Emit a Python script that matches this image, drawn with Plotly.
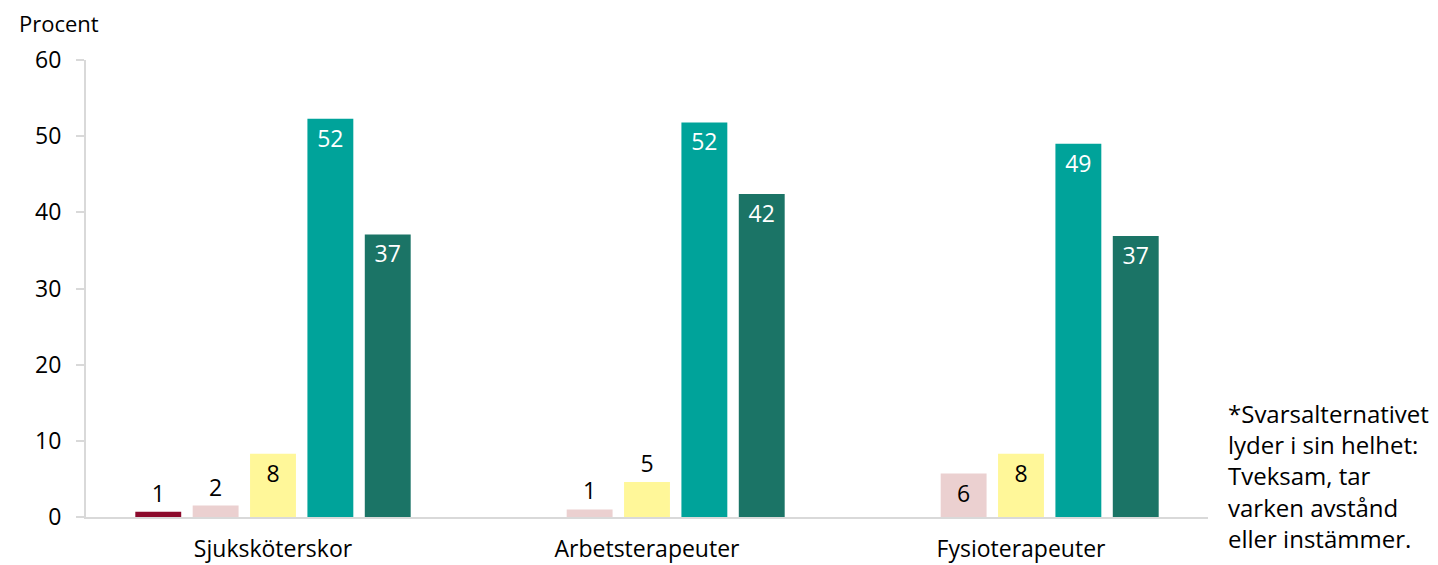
import plotly.graph_objects as go

categories = ["Sjuksköterskor", "Arbetsterapeuter", "Fysioterapeuter"]

series_names = ["Tar helt avstånd", "Tar delvis avstånd", "Tveksam*", "Instämmer delvis", "Instämmer helt"]
tar_helt_avstand = [0.7, None, None]
tar_delvis_avstand = [1.5, 1.0, 5.7]
tveksam = [8.3, 4.6, 8.3]
instammer_delvis = [52.3, 51.8, 49.0]
instammer_helt = [37.1, 42.4, 36.9]

y_ticks = [0, 10, 20, 30, 40, 50, 60]

colors = ["#8C0A2C", "#EBD0D0", "#FFF799", "#00A39A", "#1B7466"]
text_colors = ["black", "black", "black", "white", "white"]
# where the value labels sit, per bar
positions = [
    ["outside", "outside", "outside"],
    ["outside", "outside", "inside"],
    ["inside", "outside", "inside"],
    ["inside", "inside", "inside"],
    ["inside", "inside", "inside"],
]

font = "Open Sans, Arial, sans-serif"
fsize = 23

fig = go.Figure()
all_values = [tar_helt_avstand, tar_delvis_avstand, tveksam, instammer_delvis, instammer_helt]
for name, vals, col, tcol, pos in zip(series_names, all_values, colors, text_colors, positions):
    labels = ["" if v is None else f"{round(v):d}" for v in vals]
    fig.add_trace(go.Bar(
        name=name, x=categories, y=vals,
        marker=dict(color=col, line=dict(width=0)),
        text=labels, textposition=pos,
        insidetextanchor="end",
        textfont=dict(family=font, size=fsize, color=tcol),
        outsidetextfont=dict(family=font, size=fsize, color="black"),
        insidetextfont=dict(family=font, size=fsize, color=tcol),
        cliponaxis=False,
    ))

# the page body adds an 8px margin, so the figure is 8px smaller
fig.update_layout(
    width=1430, height=557,
    barmode="group", bargap=0.233, bargroupgap=0.2,
    plot_bgcolor="white", paper_bgcolor="white",
    showlegend=False,
    margin=dict(l=78, r=230, t=52, b=48),
    font=dict(family=font, size=fsize, color="black"),
)
fig.update_yaxes(
    range=[0, 60], tickvals=y_ticks, showgrid=False, automargin=False,
    showline=True, linecolor="#D9D9D9", linewidth=2,
    ticks="outside", ticklen=8, tickcolor="#D9D9D9", tickwidth=2,
    ticklabelstandoff=10, zeroline=False,
    tickfont=dict(size=fsize, color="black"),
)
fig.update_xaxes(
    showline=True, linecolor="#D9D9D9", linewidth=2, automargin=False,
    ticks="", ticklabelstandoff=10,
    tickfont=dict(size=fsize, color="black"),
)

fig.add_annotation(text="Procent", x=0, y=1, xref="paper", yref="paper",
                   xanchor="left", yanchor="middle", xshift=-69, yshift=37,
                   showarrow=False, font=dict(size=22))
fig.add_annotation(
    text="*Svarsalternativet<br>lyder i sin helhet:<br>Tveksam, tar<br>varken avstånd<br>eller instämmer.",
    x=1, y=0, xref="paper", yref="paper", xanchor="left", yanchor="bottom",
    xshift=18, yshift=-40, align="left", showarrow=False,
    font=dict(size=24),
)

fig.write_html("out.html")
